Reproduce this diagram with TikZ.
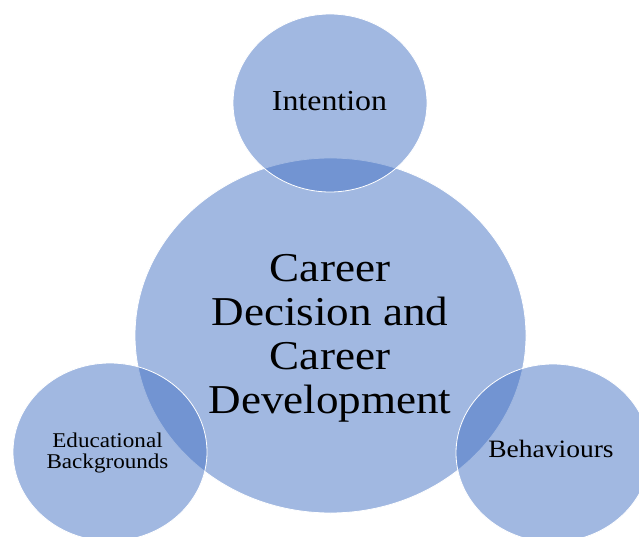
\documentclass[tikz,border=0pt]{standalone}
\usepackage{fontspec}
\setmainfont{Liberation Serif}
\usetikzlibrary{shapes.geometric}
\definecolor{bubblue}{HTML}{4472C4}
\tikzset{
  bubble/.style={ellipse, fill=bubblue, fill opacity=0.5, draw=white, draw opacity=1,
    line width=0.8pt, inner sep=0pt, outer sep=0pt},
  small/.style={bubble, minimum width=194pt, minimum height=178pt},
  big/.style={bubble, minimum width=391pt, minimum height=355pt},
  lbl/.style={anchor=base, inner sep=0pt, text=black}
}
\begin{document}
\begin{tikzpicture}[x=1pt,y=1pt]
\clip (0,0) rectangle (639,-537);
\useasboundingbox (0,0) rectangle (639,-537);
\fill[white] (0,0) rectangle (639,-537);
\node[big] (main) at (330.5,-335.5) {};
\node[small] (intent) at (330,-103) {};
\node[small] (edu) at (110,-452) {};
\node[small] (beh) at (553,-453) {};
\node[lbl] (tmain) at (330,-281) {\scalebox{1.1}[1]{\fontsize{41}{44}\selectfont\begin{tabular}[t]{@{}c@{}}Career\\Decision and\\Career\\Development\end{tabular}}};
\node[lbl] (tintent) at (329.5,-111) {\scalebox{1.1}[1]{\fontsize{29}{33}\selectfont Intention}};
\node[lbl] (tedu) at (107.5,-447) {\scalebox{1.1}[1]{\fontsize{21}{21}\selectfont\begin{tabular}[t]{@{}c@{}}Educational\\Backgrounds\end{tabular}}};
\node[lbl] (tbeh) at (551,-457) {\scalebox{1.1}[1]{\fontsize{25}{28}\selectfont Behaviours}};
\end{tikzpicture}
\end{document}
